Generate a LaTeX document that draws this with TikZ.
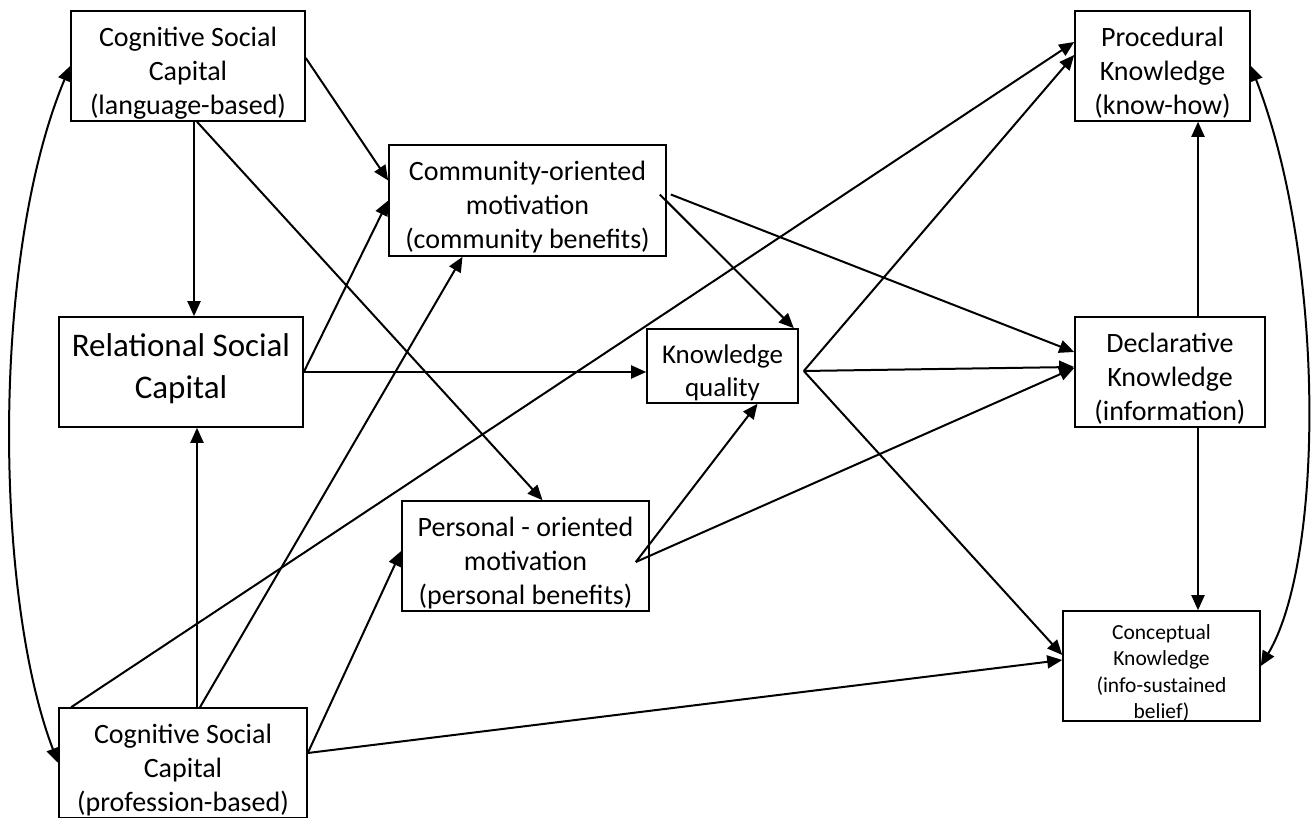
\documentclass[tikz,border=0pt]{standalone}
\usepackage{fontspec}
\setmainfont{Carlito}
\usetikzlibrary{arrows.meta,calc}

\begin{document}
\begin{tikzpicture}[x=1pt,y=1pt,
  box/.style={draw, line width=1.6pt, inner sep=0pt},
  txt/.style={align=center, inner sep=0pt, yshift=-7, font=\fontsize{28}{34}\selectfont},
  arr/.style={line width=2pt, -{Triangle[length=15pt,width=13pt]}},
  dblarr/.style={line width=2pt,
    {Triangle[length=15pt,width=13pt]}-{Triangle[length=15pt,width=13pt]}}]
\useasboundingbox (0,0) rectangle (1311,818);
% social capital side
\node[box, minimum width=234, minimum height=110, label={[txt]center:{Cognitive Social\\Capital\\(language-based)}}] (csl) at (188,752) {};
\node[box, minimum width=244, minimum height=110, label={[txt, yshift=10, font=\fontsize{33}{42}\selectfont]center:{Relational Social\\Capital}}] (rel) at (181,446) {};
\node[box, minimum width=248, minimum height=110, label={[txt]center:{Cognitive Social\\Capital\\(profession-based)}}] (csp) at (183,55) {};
% motivation and quality
\node[box, minimum width=277, minimum height=111, label={[txt]center:{Community-oriented\\motivation\\(community benefits)}}] (com) at (527.5,617.5) {};
\node[box, minimum width=247, minimum height=110, label={[txt]center:{Personal - oriented\\motivation\\(personal benefits)}}] (per) at (525.5,262) {};
\node[box, minimum width=151, minimum height=74, label={[txt, font=\fontsize{27}{33}\selectfont]center:{Knowledge\\quality}}] (kq) at (722.5,452) {};
% knowledge types
\node[box, minimum width=175, minimum height=110, label={[txt]center:{Procedural\\Knowledge\\(know-how)}}] (pro) at (1162.5,752) {};
\node[box, minimum width=190, minimum height=110, label={[txt]center:{Declarative\\Knowledge\\(information)}}] (dec) at (1170,446) {};
\node[box, minimum width=197, minimum height=110, label={[txt, font=\fontsize{21.5}{26.5}\selectfont]center:{Conceptual\\Knowledge\\(info-sustained\\belief)}}] (con) at (1161.5,152) {};
% from cognitive (language)
\draw[arr] ([yshift=8]csl.east) -- ([yshift=20]com.west);
\draw[arr] ([xshift=9]csl.south) -- ([xshift=17]per.north);
\draw[arr] ([xshift=6]csl.south) -- ([xshift=6]csl.south |- rel.north);
% from relational
\draw[arr] (rel.east) -- (com.west);
\draw[arr] (rel.east) -- (rel.east -| kq.west);
% from cognitive (profession)
\draw[arr] ([xshift=13]csp.north west) -- ([yshift=24]pro.west);
\draw[arr] ([xshift=14]csp.north) -- ([xshift=14]csp.north |- rel.south);
\draw[arr] ([xshift=17]csp.north) -- ([xshift=-65]com.south);
\draw[arr] ([yshift=10]csp.east) -- ([yshift=5]per.west);
\draw[arr] ([yshift=10]csp.east) -- ([yshift=6]con.west);
% from motivations
\draw[arr] ([xshift=-7,yshift=6]com.east) -- ([xshift=-5]kq.north east);
\draw[arr] ([xshift=4,yshift=6]com.east) -- ([yshift=20]dec.west);
\draw[arr] ([xshift=-14,yshift=-6]per.east) -- ([xshift=35]kq.south);
\draw[arr] ([xshift=-14,yshift=-6]per.east) -- ([yshift=4]dec.west);
% from knowledge quality
\draw[arr] ([xshift=5,yshift=-5]kq.east) -- ([yshift=5]dec.west);
\draw[arr] ([xshift=5,yshift=-5]kq.east) -- ([yshift=11]pro.west);
\draw[arr] ([xshift=5,yshift=-5]kq.east) -- ([yshift=11]con.west);
% between knowledge types
\draw[arr] ([xshift=28]dec.north) -- ([xshift=28]dec.north |- pro.south);
\draw[arr] ([xshift=28]dec.south) -- ([xshift=28]dec.south |- con.north);
\draw[dblarr] (csp.west) .. controls (-5,220) and (-10,560) .. (csl.west);
\draw[dblarr] (con.east) .. controls (1325,260) and (1325,560) .. (pro.east);
\end{tikzpicture}
\end{document}
